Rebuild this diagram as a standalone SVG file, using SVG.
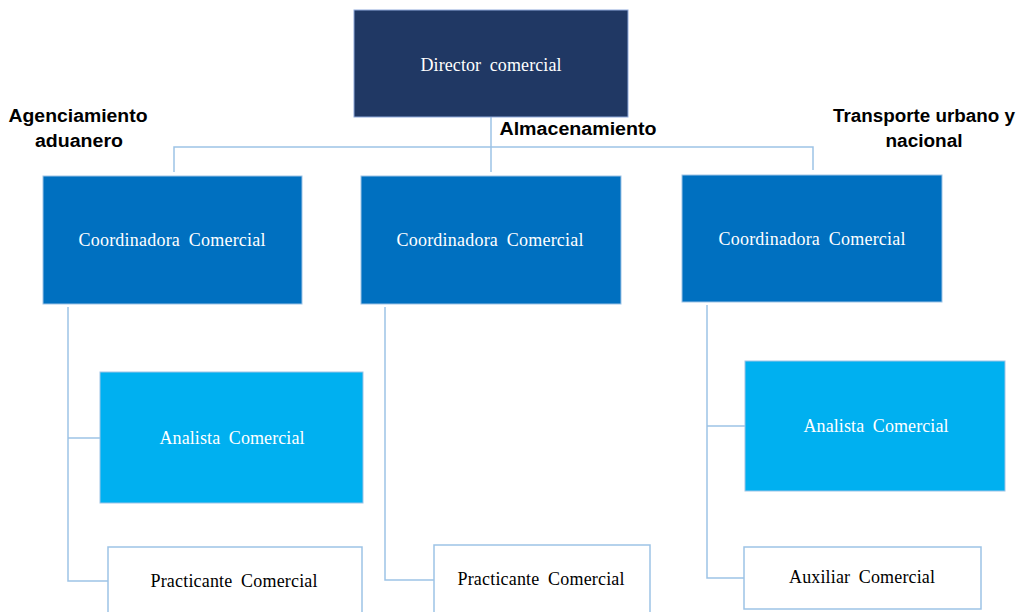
<svg xmlns="http://www.w3.org/2000/svg" width="1020" height="612" viewBox="0 0 1020 612">
<style>
.conn{fill:none;stroke:#9DC3E6;stroke-width:1.5}
.t{font-family:"Liberation Serif","Times New Roman",serif;font-size:18px;text-anchor:middle;dominant-baseline:central;word-spacing:4px}
.w{fill:#FFFFFF}
.k{fill:#000000}
.lbl{font-family:"Liberation Sans",Arial,sans-serif;font-weight:bold;font-size:18px;fill:#000;text-anchor:middle;lengthAdjust:spacingAndGlyphs}
.dir{fill:#203864;stroke:#8FAADC;stroke-width:1}
.coord{fill:#0070C0;stroke:#9DC3E6;stroke-width:1}
.ana{fill:#00B0F0;stroke:#9DC3E6;stroke-width:1}
.wb{fill:#FFFFFF;stroke:#9DC3E6;stroke-width:1.5}
</style>
<rect width="1020" height="612" fill="#FFFFFF"/>
<g id="connectors">
<path class="conn" d="M491 117 V172 M174 172 V147 H813 V170"/>
<path class="conn" d="M68 307 V581 H108 M68 438 H100"/>
<path class="conn" d="M385 307 V580 H434"/>
<path class="conn" d="M707 305 V578 H744 M707 426 H745"/>
</g>
<g id="director">
<rect class="dir" x="354" y="10" width="274" height="107"/>
<text class="t w" x="491" y="65" textLength="141">Director comercial</text>
</g>
<g id="lbl-agenciamiento">
<text class="lbl" x="78" y="122" textLength="139" lengthAdjust="spacingAndGlyphs">Agenciamiento</text>
<text class="lbl" x="79" y="147" textLength="88" lengthAdjust="spacingAndGlyphs">aduanero</text>
</g>
<g id="lbl-almacenamiento">
<text class="lbl" x="578" y="135" textLength="157" lengthAdjust="spacingAndGlyphs">Almacenamiento</text>
</g>
<g id="lbl-transporte">
<text class="lbl" x="924" y="122" textLength="182" lengthAdjust="spacingAndGlyphs">Transporte urbano y</text>
<text class="lbl" x="924" y="147" textLength="77" lengthAdjust="spacingAndGlyphs">nacional</text>
</g>
<g id="coord1">
<rect class="coord" x="43" y="176" width="259" height="128"/>
<text class="t w" x="172" y="240" textLength="187">Coordinadora Comercial</text>
</g>
<g id="coord2">
<rect class="coord" x="361" y="176" width="260" height="128"/>
<text class="t w" x="490" y="240" textLength="187">Coordinadora Comercial</text>
</g>
<g id="coord3">
<rect class="coord" x="682" y="175" width="260" height="127"/>
<text class="t w" x="812" y="239" textLength="187">Coordinadora Comercial</text>
</g>
<g id="analista1">
<rect class="ana" x="100" y="372" width="263" height="131"/>
<text class="t w" x="232" y="438" textLength="145">Analista Comercial</text>
</g>
<g id="practicante1">
<rect class="wb" x="108" y="547" width="254" height="70"/>
<text class="t k" x="234" y="581" textLength="167">Practicante Comercial</text>
</g>
<g id="practicante2">
<rect class="wb" x="434" y="545" width="216" height="72"/>
<text class="t k" x="541" y="579" textLength="167">Practicante Comercial</text>
</g>
<g id="analista2">
<rect class="ana" x="745" y="361" width="260" height="130"/>
<text class="t w" x="876" y="426" textLength="145">Analista Comercial</text>
</g>
<g id="auxiliar">
<rect class="wb" x="744" y="547" width="237" height="62"/>
<text class="t k" x="862" y="577" textLength="146">Auxiliar Comercial</text>
</g>
</svg>
